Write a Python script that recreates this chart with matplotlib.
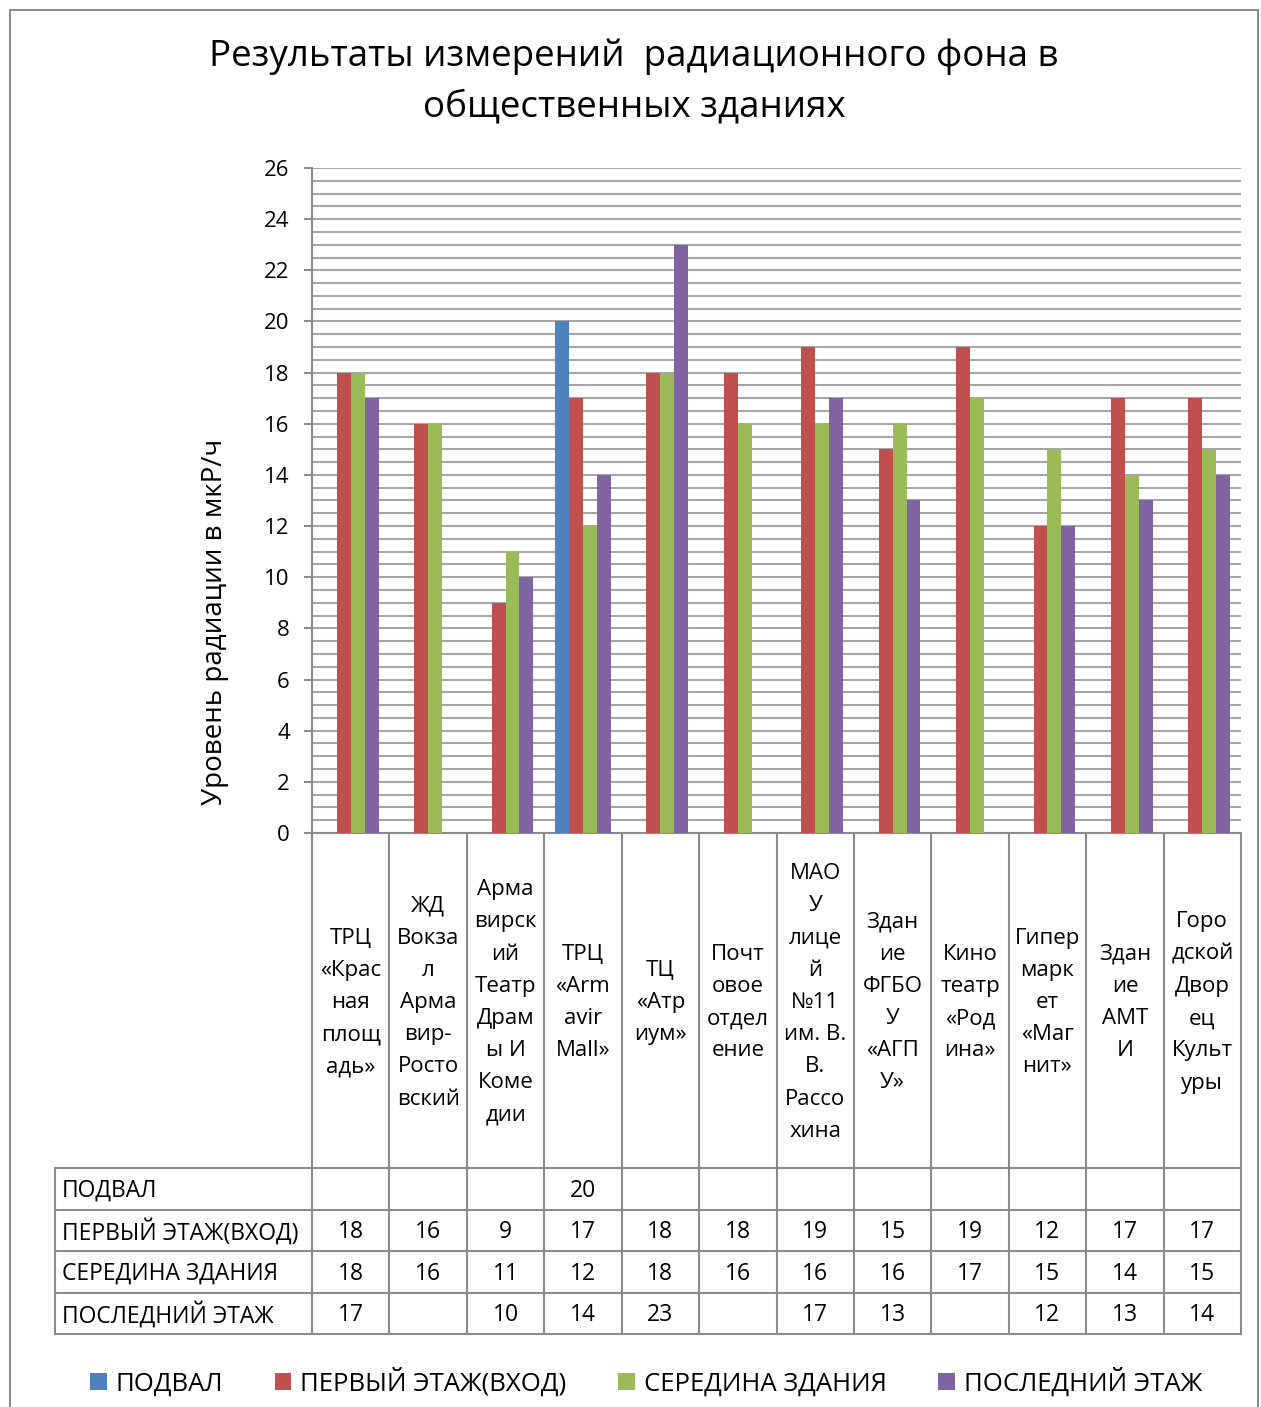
import numpy as np
import matplotlib.pyplot as plt
from matplotlib.patches import Rectangle

plt.rcParams['font.family'] = ['Open Sans', 'DejaVu Sans']

# Buildings (labels wrapped the way the table cells show them)
categories = [
    "ТРЦ\n«Крас\nная\nплощ\nадь»",
    "ЖД\nВокза\nл\nАрма\nвир-\nРосто\nвский",
    "Арма\nвирск\nий\nТеатр\nДрам\nы И\nКоме\nдии",
    "ТРЦ\n«Arm\navir\nMall»",
    "ТЦ\n«Атр\nиум»",
    "Почт\nовое\nотдел\nение",
    "МАО\nУ\nлице\nй\n№11\nим. В.\nВ.\nРассо\nхина",
    "Здан\nие\nФГБО\nУ\n«АГП\nУ»",
    "Кино\nтеатр\n«Род\nина»",
    "Гипер\nмарк\nет\n«Маг\nнит»",
    "Здан\nие\nАМТ\nИ",
    "Горо\nдской\nДвор\nец\nКульт\nуры",
]

series_names = ["ПОДВАЛ", "ПЕРВЫЙ ЭТАЖ(ВХОД)", "СЕРЕДИНА ЗДАНИЯ", "ПОСЛЕДНИЙ ЭТАЖ"]
nan = np.nan
basement = [nan, nan, nan, 20, nan, nan, nan, nan, nan, nan, nan, nan]
first_floor = [18, 16, 9, 17, 18, 18, 19, 15, 19, 12, 17, 17]
middle = [18, 16, 11, 12, 18, 16, 16, 16, 17, 15, 14, 15]
top_floor = [17, nan, 10, 14, 23, nan, 17, 13, nan, 12, 13, 14]
series = [basement, first_floor, middle, top_floor]
colors = ["#4F81BD", "#C0504D", "#9BBB59", "#8064A2"]

W, H = 1261, 1407
GRID = "#a6a6a6"
LINE = "#8c8c8c"


def px_rect(x0, y0, x1, y1):
    return [x0 / W, 1 - y1 / H, (x1 - x0) / W, (y1 - y0) / H]


fig = plt.figure(figsize=(W / 100, H / 100), dpi=100)

# outer chart frame
fig.patches.append(Rectangle((10 / W, -0.01), 1248 / W, 1.01 - 10 / H,
                             transform=fig.transFigure, fill=False,
                             edgecolor=LINE, linewidth=1.5))

plot_l, plot_r, plot_t, plot_b = 312, 1241, 168, 833
ax = fig.add_axes(px_rect(plot_l, plot_t, plot_r, plot_b))
n = len(categories)
x = np.arange(n) + 0.5
bw = 0.18
for j, (vals, c) in enumerate(zip(series, colors)):
    ax.bar(x + (j - 1.5) * bw, vals, width=bw, color=c, label=series_names[j], zorder=3)

ax.set_xlim(0, n)
ax.set_ylim(0, 26)
ax.set_yticks(np.arange(0, 27, 2))
ax.set_yticks(np.arange(0, 26.01, 0.5), minor=True)
ax.grid(axis='y', which='both', color=GRID, linewidth=1.5, zorder=0)
ax.set_xticks([])
ax.tick_params(axis='y', which='major', length=6, width=1.5, color=LINE,
               labelsize=16, pad=10)
ax.tick_params(axis='y', which='minor', length=0)
for s in ['top', 'right']:
    ax.spines[s].set_visible(False)
for s in ['left', 'bottom']:
    ax.spines[s].set_color(LINE)
    ax.spines[s].set_linewidth(1.5)

fig.text(215 / W, 1 - 622 / H, "Уровень радиации в мкР/ч", rotation=90,
         ha='center', va='center', fontsize=20)

fig.text(634 / W, 1 - 57 / H, "Результаты измерений  радиационного фона в",
         ha='center', va='center', fontsize=26.5)
fig.text(634 / W, 1 - 107 / H, "общественных зданиях",
         ha='center', va='center', fontsize=26.5)

# data table under the axis
tab_l, tab_b = 55, 1334
tab = fig.add_axes(px_rect(tab_l, plot_b, plot_r, tab_b))
col_w = (plot_r - plot_l) / n
head_w = (plot_l - tab_l) / col_w
label_h = 335
row_h = (tab_b - plot_b - label_h) / 4
tab.set_xlim(-head_w, n)
tab.set_ylim(tab_b - plot_b, 0)
tab.axis('off')

for i in range(n + 1):
    tab.plot([i, i], [0, tab_b - plot_b], color=LINE, lw=1.5, clip_on=False)
for r in range(5):
    yy = label_h + r * row_h
    tab.plot([-head_w, n], [yy, yy], color=LINE, lw=1.5, clip_on=False)
tab.plot([-head_w, -head_w], [label_h, tab_b - plot_b], color=LINE, lw=1.5, clip_on=False)

for i, lab in enumerate(categories):
    tab.text(i + 0.5, label_h / 2 + 2, lab, ha='center', va='center',
             fontsize=16, linespacing=1.7)

for r, (name, vals) in enumerate(zip(series_names, series)):
    yc = label_h + (r + 0.5) * row_h + 2
    tab.text(-head_w + 0.09, yc, name, ha='left', va='center', fontsize=16.5)
    for i, v in enumerate(vals):
        if not np.isnan(v):
            tab.text(i + 0.5, yc, f"{v:g}", ha='center', va='center', fontsize=16.5)

handles, labels = ax.get_legend_handles_labels()
fig.legend(handles, labels, loc='center', bbox_to_anchor=(646 / W, 1 - 1382 / H),
           ncol=4, frameon=False, fontsize=18.5, handlelength=0.65, handleheight=0.65,
           handletextpad=0.35, columnspacing=2.0)

fig.savefig("out.png", dpi=100)
